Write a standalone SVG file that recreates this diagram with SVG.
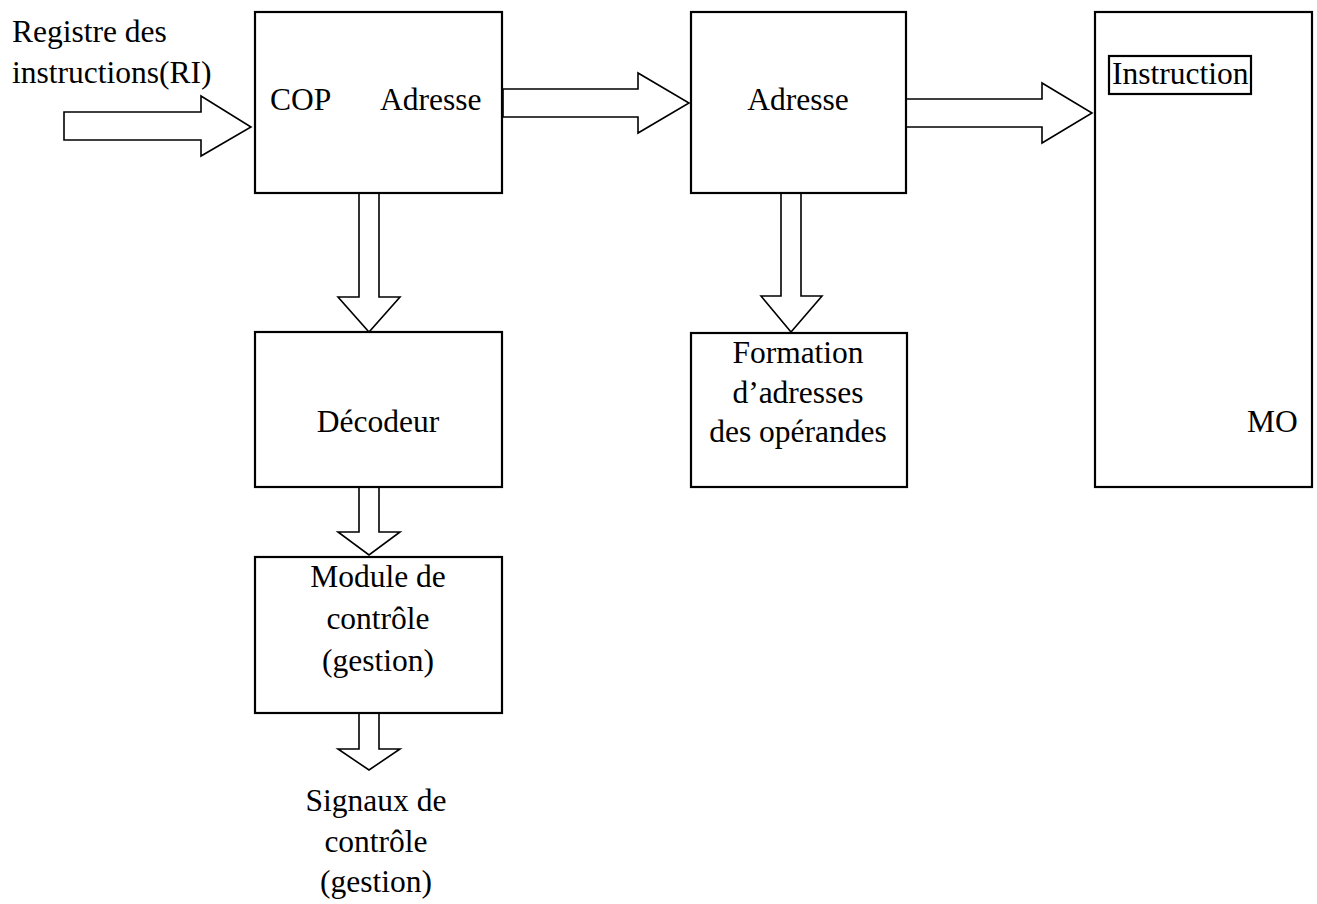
<svg xmlns="http://www.w3.org/2000/svg" width="1317" height="904" viewBox="0 0 1317 904">
<style>
.box{fill:#fff;stroke:#000;stroke-width:2.2}
.arr{fill:#fff;stroke:#000;stroke-width:1.6;stroke-linejoin:miter}
text{font-family:"Liberation Serif","Times New Roman",serif;font-size:31.5px;fill:#000}
.c{text-anchor:middle}
</style>
<rect width="1317" height="904" fill="#fff"/>
<g id="connectors">
<polygon class="arr" points="64,112 201,112 201,96 251,127 201,156 201,140 64,140"/>
<polygon class="arr" points="503,89 638,89 638,73 689,103 638,133 638,117 503,117"/>
<polygon class="arr" points="905,99 1042,99 1042,83 1092,113 1042,143 1042,127 905,127"/>
<polygon class="arr" points="359,193 379,193 379,297 400,297 369,332 338,297 359,297"/>
<polygon class="arr" points="781,193 801,193 801,296 822,296 791,332 761,296 781,296"/>
<polygon class="arr" points="359,487 379,487 379,532 400,532 369,555 338,532 359,532"/>
<polygon class="arr" points="359,713 379,713 379,749 400,749 369,770 338,749 359,749"/>
</g>
<g id="input-label">
<text x="12" y="42">Registre des</text>
<text x="12" y="83">instructions(RI)</text>
</g>
<g id="ri">
<rect class="box" x="255" y="12" width="247" height="181"/>
<text x="270" y="110">COP</text>
<text x="380" y="110">Adresse</text>
</g>
<g id="adresse">
<rect class="box" x="691" y="12" width="215" height="181"/>
<text class="c" x="798" y="110">Adresse</text>
</g>
<g id="mo">
<rect class="box" x="1095" y="12" width="217" height="475"/>
<rect class="box" x="1109" y="56" width="142" height="38"/>
<text x="1112" y="84">Instruction</text>
<text x="1247" y="432">MO</text>
</g>
<g id="decodeur">
<rect class="box" x="255" y="332" width="247" height="155"/>
<text class="c" x="378" y="432">Décodeur</text>
</g>
<g id="formation">
<rect class="box" x="691" y="333" width="216" height="154"/>
<text class="c" x="798" y="363">Formation</text>
<text class="c" x="798" y="403">d’adresses</text>
<text class="c" x="798" y="442">des opérandes</text>
</g>
<g id="module">
<rect class="box" x="255" y="557" width="247" height="156"/>
<text class="c" x="378" y="587">Module de</text>
<text class="c" x="378" y="629">contrôle</text>
<text class="c" x="378" y="671">(gestion)</text>
</g>
<g id="signaux">
<text class="c" x="376" y="811">Signaux de</text>
<text class="c" x="376" y="852">contrôle</text>
<text class="c" x="376" y="892">(gestion)</text>
</g>
</svg>
